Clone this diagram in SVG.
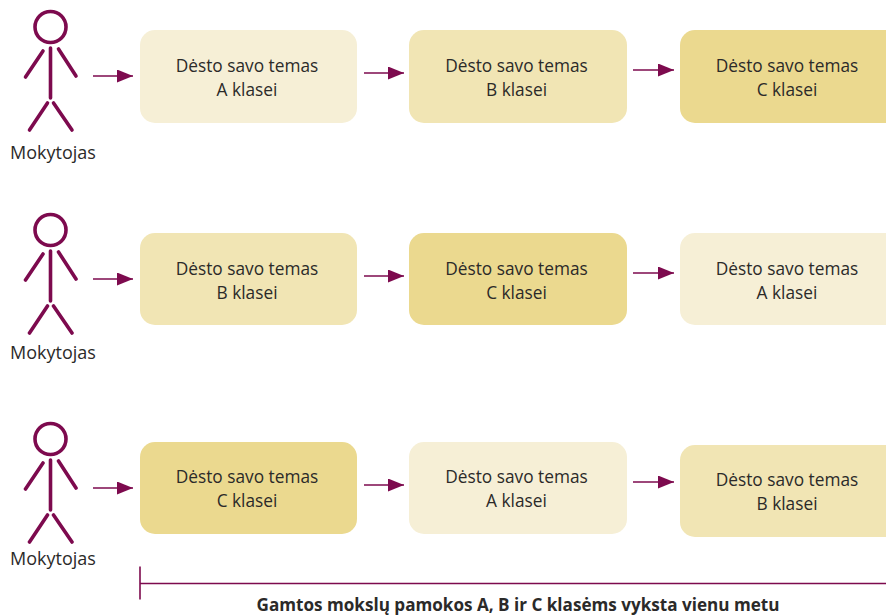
<svg xmlns="http://www.w3.org/2000/svg" width="886" height="616" viewBox="0 0 886 616">
<style>
text{font-family:"Open Sans","Noto Sans","Liberation Sans",sans-serif;font-size:17.300px;fill:#2b2a29;text-anchor:middle}
.b{font-weight:700;font-size:17.100px}
.m{font-size:18px}
.l1{fill:#f6efd6}.l2{fill:#f1e5b4}.l3{fill:#ebd98f}
.fig{fill:none;stroke:#7d0a4e;stroke-width:3.6;stroke-linecap:round}
.c{fill:none;stroke:#7d0a4e;stroke-width:1.6}
</style>
<defs>
<marker id="a" markerUnits="userSpaceOnUse" markerWidth="16" markerHeight="14" refX="16" refY="6.500" orient="auto"><path d="M0 0L16 6.500L0 13Z" fill="#7d0a4e"/></marker>
<g id="actor" class="fig"><circle cx="50.500" cy="27" r="15.500"/><path d="M50.500 48V98M43 51L25.500 77M58.500 49L76 76M47.500 103L29.500 130M53.500 103L72 130"/></g>
</defs>
<rect width="886" height="616" fill="#fff"/>
<g id="actor1"><use href="#actor"/><text class="m" x="53" y="158.500">Mokytojas</text></g>
<g id="actor2"><use href="#actor" y="203"/><text class="m" x="53" y="358.500">Mokytojas</text></g>
<g id="actor3"><use href="#actor" y="412"/><text class="m" x="53" y="564.500">Mokytojas</text></g>
<g id="n11"><rect class="l1" x="140" y="30" width="217" height="93" rx="15"/><text x="247" y="72">Dėsto savo temas</text><text x="247" y="95.500">A klasei</text></g>
<g id="n12"><rect class="l2" x="409" y="30" width="218" height="93" rx="15"/><text x="516.500" y="72">Dėsto savo temas</text><text x="516.500" y="95.500">B klasei</text></g>
<g id="n13"><rect class="l3" x="680" y="30" width="230" height="93" rx="15"/><text x="787" y="72">Dėsto savo temas</text><text x="787" y="95.500">C klasei</text></g>
<g id="n21"><rect class="l2" x="140" y="233" width="217" height="92" rx="15"/><text x="247" y="275">Dėsto savo temas</text><text x="247" y="298.500">B klasei</text></g>
<g id="n22"><rect class="l3" x="409" y="233" width="218" height="92" rx="15"/><text x="516.500" y="275">Dėsto savo temas</text><text x="516.500" y="298.500">C klasei</text></g>
<g id="n23"><rect class="l1" x="680" y="233" width="230" height="92" rx="15"/><text x="787" y="275">Dėsto savo temas</text><text x="787" y="298.500">A klasei</text></g>
<g id="n31"><rect class="l3" x="140" y="442" width="217" height="92" rx="15"/><text x="247" y="483">Dėsto savo temas</text><text x="247" y="507">C klasei</text></g>
<g id="n32"><rect class="l1" x="409" y="442" width="218" height="92" rx="15"/><text x="516.500" y="483">Dėsto savo temas</text><text x="516.500" y="507">A klasei</text></g>
<g id="n33"><rect class="l2" x="680" y="445" width="230" height="92" rx="15"/><text x="787" y="486">Dėsto savo temas</text><text x="787" y="510">B klasei</text></g>
<g id="connectors">
<path class="c" marker-end="url(#a)" d="M93 76H133"/>
<path class="c" marker-end="url(#a)" d="M364 73H404"/>
<path class="c" marker-end="url(#a)" d="M633 70H674"/>
<path class="c" marker-end="url(#a)" d="M93 279H133"/>
<path class="c" marker-end="url(#a)" d="M364 276H404"/>
<path class="c" marker-end="url(#a)" d="M633 273H674"/>
<path class="c" marker-end="url(#a)" d="M93 488H133"/>
<path class="c" marker-end="url(#a)" d="M364 485H404"/>
<path class="c" marker-end="url(#a)" d="M633 482H674"/>
<path class="c" d="M140 566.500V599.500M140 583.500H886"/>
</g>
<text class="b" x="518" y="610.500">Gamtos mokslų pamokos A, B ir C klasėms vyksta vienu metu</text>
</svg>
